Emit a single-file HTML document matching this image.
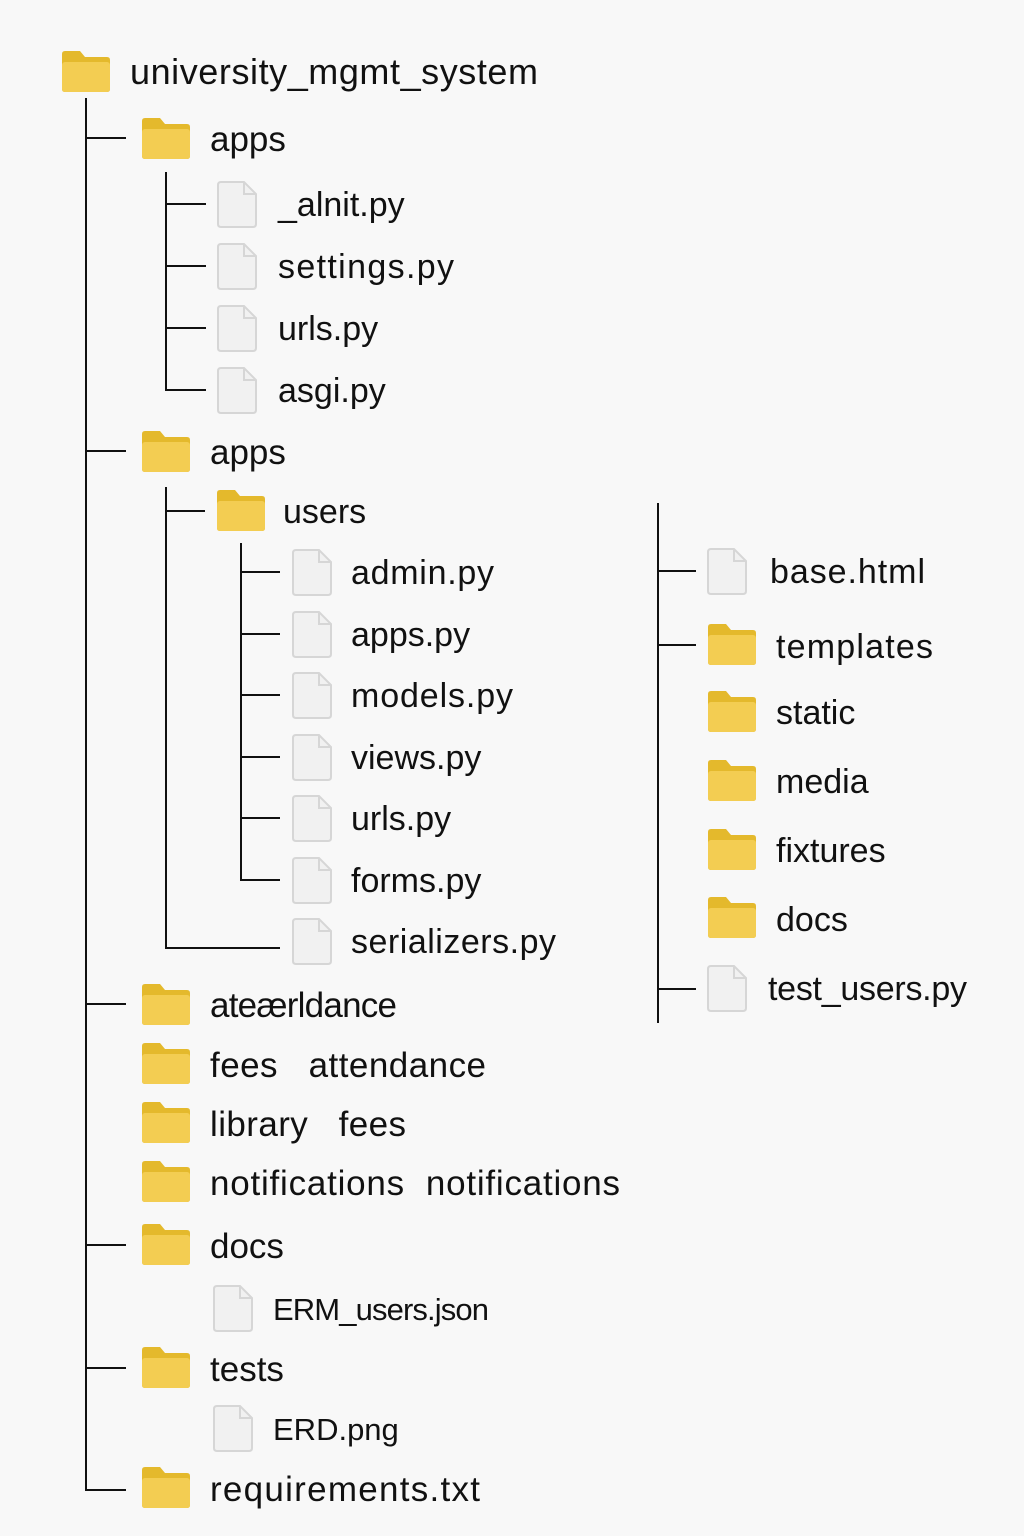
<!DOCTYPE html>
<html><head><meta charset="utf-8"><style>
html,body{margin:0;padding:0;background:#f8f8f8;}
svg{display:block;}
text{font-family:"Liberation Sans",sans-serif;fill:#111;}
</style></head><body>
<svg width="1024" height="1536" viewBox="0 0 1024 1536" xmlns="http://www.w3.org/2000/svg">
<defs>
<g id="fold">
<path d="M3 0 H18 L23 6 H45 Q48 6 48 9 V38 Q48 41 45 41 H3 Q0 41 0 38 V3 Q0 0 3 0 Z" fill="#e4b92c"/>
<rect x="0" y="11" width="48" height="30" rx="3" fill="#f3cd52"/>
</g>
<g id="file">
<path d="M4 1 H27 L39 13 V43 Q39 46 36 46 H4 Q1 46 1 43 V4 Q1 1 4 1 Z" fill="#f1f1f1" stroke="#d6d6d6" stroke-width="2"/>
<path d="M27 1 V13 H39" fill="none" stroke="#d6d6d6" stroke-width="2"/>
</g>
</defs>
<g stroke="#111" stroke-width="2" fill="none">
<path d="M86 98 V1490 H126"/>
<path d="M86 138 H126 M86 451 H126 M86 1004 H126 M86 1245 H126 M86 1368 H126"/>
<path d="M166 172 V390 H206 M166 204 H206 M166 266 H206 M166 328 H206"/>
<path d="M166 487 V948 H280 M166 511 H205"/>
<path d="M241 543 V880 H280 M241 572 H280 M241 634 H280 M241 695 H280 M241 757 H280 M241 818 H280"/>
<path d="M658 503 V1023 M658 571 H696 M658 645 H696 M658 989 H696"/>
</g>
<use href="#fold" x="62" y="51"/>
<text x="130" y="84" font-size="36" textLength="408">university_mgmt_system</text>
<use href="#fold" x="142" y="118"/>
<text x="210" y="151" font-size="35">apps</text>
<use href="#file" x="217" y="181"/><text x="278" y="216" font-size="34">_alnit.py</text>
<use href="#file" x="217" y="243"/><text x="278" y="278" font-size="34" textLength="176">settings.py</text>
<use href="#file" x="217" y="305"/><text x="278" y="340" font-size="34">urls.py</text>
<use href="#file" x="217" y="367"/><text x="278" y="402" font-size="34">asgi.py</text>
<use href="#fold" x="142" y="431"/>
<text x="210" y="464" font-size="35">apps</text>
<use href="#fold" x="217" y="490"/>
<text x="283" y="523" font-size="34">users</text>
<use href="#file" x="292" y="549"/><text x="351" y="584" font-size="34" textLength="143">admin.py</text>
<use href="#file" x="292" y="611"/><text x="351" y="646" font-size="34">apps.py</text>
<use href="#file" x="292" y="672"/><text x="351" y="707" font-size="34" textLength="162">models.py</text>
<use href="#file" x="292" y="734"/><text x="351" y="769" font-size="34">views.py</text>
<use href="#file" x="292" y="795"/><text x="351" y="830" font-size="34">urls.py</text>
<use href="#file" x="292" y="857"/><text x="351" y="892" font-size="34">forms.py</text>
<use href="#file" x="292" y="918"/><text x="351" y="953" font-size="34" textLength="205">serializers.py</text>
<use href="#fold" x="142" y="984"/><text x="210" y="1017" font-size="35" textLength="187">ateærldance</text>
<use href="#fold" x="142" y="1043"/><text x="210" y="1077" font-size="35" textLength="276" xml:space="preserve">fees   attendance</text>
<use href="#fold" x="142" y="1102"/><text x="210" y="1136" font-size="35" textLength="196" xml:space="preserve">library   fees</text>
<use href="#fold" x="142" y="1161"/><text x="210" y="1195" font-size="35" textLength="410" xml:space="preserve">notifications  notifications</text>
<use href="#fold" x="142" y="1224"/><text x="210" y="1258" font-size="35">docs</text>
<use href="#file" x="213" y="1285"/><text x="273" y="1320" font-size="31" textLength="216">ERM_users.json</text>
<use href="#fold" x="142" y="1347"/><text x="210" y="1381" font-size="35">tests</text>
<use href="#file" x="213" y="1405"/><text x="273" y="1440" font-size="31">ERD.png</text>
<use href="#fold" x="142" y="1467"/><text x="210" y="1501" font-size="35" textLength="270">requirements.txt</text>
<use href="#file" x="707" y="548"/><text x="770" y="583" font-size="34" textLength="155">base.html</text>
<use href="#fold" x="708" y="624"/><text x="776" y="658" font-size="34" textLength="157">templates</text>
<use href="#fold" x="708" y="691"/><text x="776" y="724" font-size="34">static</text>
<use href="#fold" x="708" y="760"/><text x="776" y="793" font-size="34">media</text>
<use href="#fold" x="708" y="829"/><text x="776" y="862" font-size="34">fixtures</text>
<use href="#fold" x="708" y="897"/><text x="776" y="931" font-size="34">docs</text>
<use href="#file" x="707" y="965"/><text x="768" y="1000" font-size="34" textLength="199">test_users.py</text>
</svg>
</body></html>
